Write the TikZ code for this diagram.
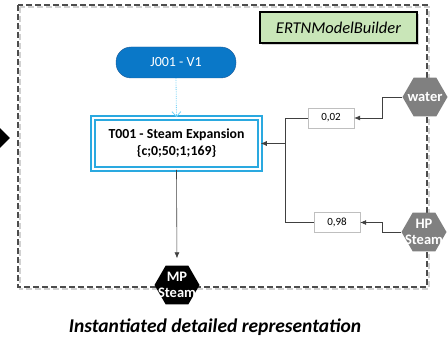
\documentclass[tikz,border=0pt]{standalone}
\usepackage{fontspec}
\setmainfont{Carlito}
\usetikzlibrary{calc,shapes.geometric,arrows.meta,shadows}

\definecolor{jblue}{HTML}{0A78C8}
\definecolor{jblueline}{HTML}{1E5A96}
\definecolor{tblue}{HTML}{2AA9E0}
\definecolor{builder}{HTML}{C9E6B8}
\definecolor{hexgray}{HTML}{808080}
\definecolor{framegray}{HTML}{4D4D4D}
\definecolor{linegray}{HTML}{404040}

\begin{document}
\begin{tikzpicture}[x=1pt,y=-1pt,
    hexa/.style={regular polygon,regular polygon sides=6,minimum size=45pt,inner sep=0pt},
    hexlabel/.style={text=white,align=center,font=\bfseries\fontsize{14.5}{16}\selectfont},
    ratio/.style={draw=black!25,minimum width=46pt,minimum height=20pt,inner sep=0pt,font=\fontsize{11}{13}\selectfont},
    feed/.style={draw=linegray,line width=0.6pt},
    tip/.style={-{Latex[length=6pt,width=5pt]}}]
			%%%%% START %%%%%
			\useasboundingbox (0,0) rectangle (448,342);
			\clip (0,0) rectangle (448,342);
			
			% frame
			\draw[black!18,line width=2.2pt,dash pattern=on 6pt off 3pt] (20,7) rectangle (429,289);
			\draw[framegray,line width=2.2pt,dash pattern=on 6pt off 3pt] (18,5) rectangle (427,287);
			
			\node[diamond,fill=black,minimum size=22pt,inner sep=0pt] (entry) at (-1,138) {};
			
			\node[draw=black,line width=1.2pt,fill=builder,minimum width=157pt,minimum height=31pt,
			      drop shadow={opacity=.35,shadow xshift=2pt,shadow yshift=-2pt},
			      font=\itshape\fontsize{16.5}{18}\selectfont] (builder) at (338.5,27.5) {ERTNModelBuilder};
			
			\node[rectangle,rounded corners=15pt,fill=jblue,draw=jblueline,minimum width=120pt,minimum height=31pt,
			      text=white,font=\fontsize{14}{16}\selectfont] (j001) at (176,62.5) {J001 - V1};
			
			\node[draw=tblue,double=white,double distance=2.2pt,line width=1.6pt,minimum width=167pt,minimum height=51pt,
			      align=center,font=\bfseries\fontsize{13.8}{17}\selectfont] (t001) at (176.5,143.5)
			      {T001 - Steam Expansion\\\{c;0;50;1;169\}};
			
			\node[ratio] (r02) at (331,118) {0,02};
			\node[ratio] (r98) at (337,222.5) {0,98};
			
			\node[hexa,fill=hexgray,label={[hexlabel]center:water}] (water) at (425,97) {};
			\node[hexa,fill=hexgray,label={[hexlabel]center:HP\\Steam}] (hpsteam) at (424,232) {};
			\node[hexa,fill=black,label={[hexlabel]center:MP\\Steam}] (mpsteam) at (177,285) {};
			
			\coordinate (join) at (285,143.5);
			
			\draw[cyan!55,densely dotted,line width=0.8pt,-{Straight Barb[length=5pt,width=9pt]}] (j001.south) -- (t001.north);
			
			\draw[feed,tip] (water.west) -- ++(-20,0) |- (r02.east);
			\draw[feed,tip] (hpsteam.west) -- ++(-19,0) |- (r98.east);
			\draw[feed] (r02.west) -| (join);
			\draw[feed] (r98.west) -| (join);
			\draw[feed,tip] (join) -- (t001.east);
			\draw[feed,tip,shorten >=7pt] (t001.south) -- (mpsteam.north);
			
			\node[font=\bfseries\itshape\fontsize{19.5}{22}\selectfont] (caption) at (215,327) {Instantiated detailed representation};
			%%%%% END %%%%%
\end{tikzpicture}
\end{document}
